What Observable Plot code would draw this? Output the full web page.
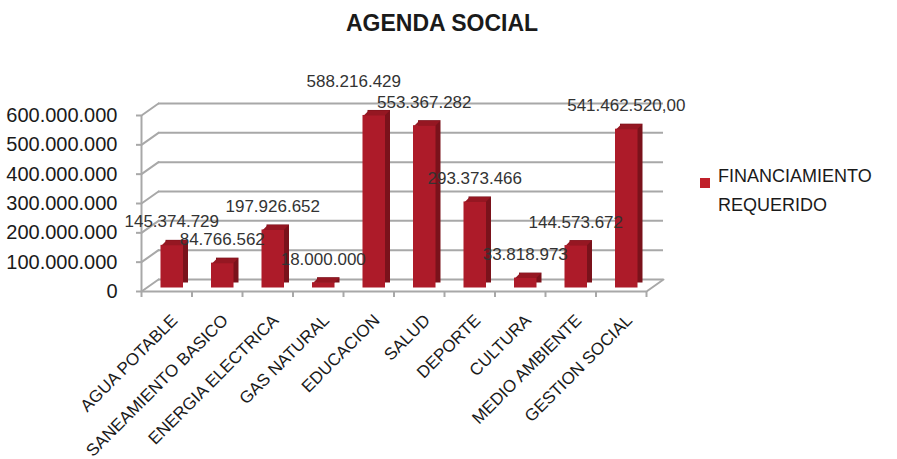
<!DOCTYPE html>
<html>
<head>
<meta charset="utf-8">
<script src="https://cdn.jsdelivr.net/npm/d3@7"></script>
<script src="https://cdn.jsdelivr.net/npm/@observablehq/plot@0.6"></script>
<style>
  html, body { margin: 0; padding: 0; background: #fff; }
  #wrap { position: relative; width: 897px; height: 459px; font-family: "Liberation Sans", Arial, sans-serif; }
  #title { position: absolute; left: 0; width: 884px; top: 10px; text-align: center; font-weight: bold; font-size: 23px; color: #1a1a1a; }
  #legend { position: absolute; left: 700px; top: 162px; font-size: 18px; line-height: 29px; color: #1a1a1a; }
  #legend .sw { position: absolute; left: 0; top: 16px; width: 10px; height: 10px; background: #c0202a; }
  #legend .tx { margin-left: 18px; }
</style>
</head>
<body>
<div id="wrap">
  <div id="title">AGENDA SOCIAL</div>
  <div id="legend"><div class="sw"></div><div class="tx">FINANCIAMIENTO<br>REQUERIDO</div></div>
</div>
<script>
const categories = ["AGUA POTABLE", "SANEAMIENTO BASICO", "ENERGIA ELECTRICA", "GAS NATURAL", "EDUCACION", "SALUD", "DEPORTE", "CULTURA", "MEDIO AMBIENTE", "GESTION SOCIAL"];
const values = [145374729, 84766562, 197926652, 18000000, 588216429, 553367282, 293373466, 33818973, 144573672, 541462520];
const valueLabels = ["145.374.729", "84.766.562", "197.926.652", "18.000.000", "588.216.429", "553.367.282", "293.373.466", "33.818.973", "144.573.672", "541.462.520,00"];
const yTicks = [0, 100000000, 200000000, 300000000, 400000000, 500000000, 600000000];

const data = categories.map((c, i) => ({i, category: c, value: values[i], label: valueLabels[i]}));
const maxValue = d3.max(values);

const fmt = d3.formatLocale({decimal: ",", thousands: ".", grouping: [3], currency: ["", ""]}).format(",");
const gray = "#a8a8a8";
const lineShape = {draw(context, l) { context.moveTo(0, 0); context.lineTo(0, -l); }};
const topFace = {draw(context) {
  context.moveTo(-10.5, 0); context.lineTo(10.5, 0); context.lineTo(15.5, -5); context.lineTo(-5.5, -5); context.closePath();
}};

const chart = Plot.plot({
  width: 897,
  height: 459,
  marginLeft: 141,
  marginRight: 251,
  marginTop: 115,
  marginBottom: 168,
  x: {domain: [0, 10], axis: null},
  y: {domain: [0, 600000000], axis: null},
  style: {fontFamily: "'Liberation Sans', Arial, sans-serif", background: "transparent"},
  marks: [
    Plot.ruleY(yTicks, {dx: 17, dy: -12, stroke: gray, strokeWidth: 2}),
    Plot.vector(yTicks, {x: 0, y: d => d, length: 20.8, rotate: 54.8, anchor: "start", shape: lineShape, stroke: gray, strokeWidth: 2}),
    Plot.vector([0], {x: 10, y: d => d, length: 20.8, rotate: 54.8, anchor: "start", shape: lineShape, stroke: gray, strokeWidth: 2}),
    Plot.ruleY([0], {stroke: gray, strokeWidth: 2}),
    Plot.ruleX([0], {y1: 0, y2: 600000000, stroke: gray, strokeWidth: 2}),
    Plot.axisY({ticks: yTicks, tickFormat: fmt, tickSize: 5, tickPadding: 19, fontSize: 20, stroke: gray, strokeWidth: 2, fill: "#1a1a1a", label: null}),
    Plot.axisX({ticks: d3.range(11), tickFormat: () => "", tickSize: 6, stroke: gray, strokeWidth: 2, label: null}),
    Plot.axisX({ticks: d3.range(10).map(i => i + 0.5), tickFormat: d => categories[Math.floor(d)], tickSize: 0, tickPadding: 26, tickRotate: -45, fontSize: 17, dx: 8, fill: "#1a1a1a", label: null}),
    Plot.rectY(data, {x1: "i", x2: d => d.i + 1, y: "value", insetLeft: 14, insetRight: 14, dx: 10.5, dy: -8.5, fill: "#7a121b"}),
    Plot.rectY(data, {x1: "i", x2: d => d.i + 1, y: "value", insetLeft: 14, insetRight: 14, dx: 5.5, dy: -3.5, fill: "#ad1b29"}),
    Plot.dot(data, {x: d => d.i + 0.5, y: "value", symbol: topFace, r: 5, dx: 5.5, dy: -3.5, fill: "#951722", stroke: "none"}),
    Plot.text(data.filter(d => d.value !== maxValue), {x: d => d.i + 0.5, y: "value", text: "label", dx: 5, dy: -27, fontSize: 17, fill: "#333"}),
    Plot.text(data.filter(d => d.value === maxValue), {x: d => d.i + 0.5, y: "value", text: "label", dx: -15, dy: -37, fontSize: 17, fill: "#333"})
  ]
});
document.getElementById("wrap").prepend(chart);
chart.style.position = "absolute";
chart.style.left = "0";
chart.style.top = "0";
</script>
</body>
</html>
